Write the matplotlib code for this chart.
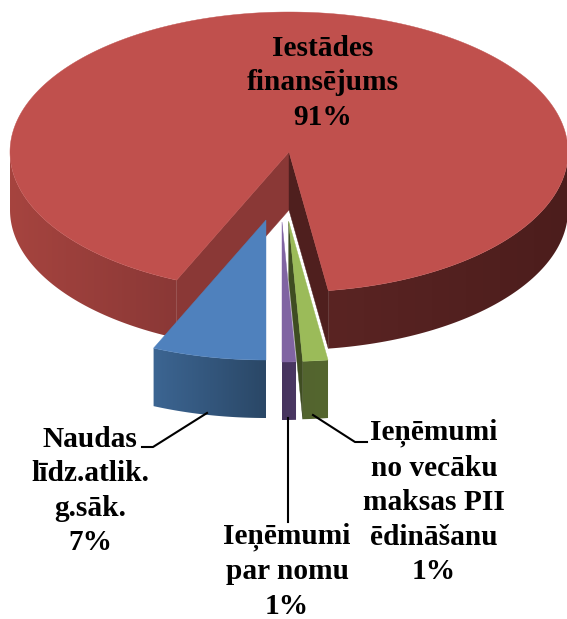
import numpy as np
import matplotlib
matplotlib.use("Agg")
import matplotlib.pyplot as plt
from matplotlib.colors import to_rgb
from matplotlib.patches import Polygon

# clockwise from the first slice
names = ["Iestādes\nfinansējums", "Ieņēmumi\nno vecāku\nmaksas PII\nēdināšanu", "Ieņēmumi\npar nomu", "Naudas\nlīdz.atlik.\ng.sāk."]
values = [91.15, 1.45, 0.8, 6.6]
pct_labels = ["91%", "1%", "1%", "7%"]

top_colors = ["#C0504D", "#9BBB59", "#8064A2", "#4F81BD"]
side_stops = [
    ([10, 177, 330, 567], ["#A6443F", "#8A3836", "#5A2423", "#4C1D1C"]),
    ([300, 330], ["#52642E", "#55662F"]),
    ([280, 298], ["#47345E", "#4A3763"]),
    ([154, 266], ["#3C6592", "#2A4766"]),
]
cut_left = "#8A3836"
cut_right = "#4F1F1E"
cut_green = "#3F4D22"

# ellipse geometry in pixels
cx, cy = 289, 152
rx, ry = 279, 140
depth = 58
first_angle = 203.76
# where each slice apex ends up
apex = [(289, 152), (288.7, 221.4), (282, 222), (266, 220)]

fig = plt.figure(figsize=(5.67, 6.19), dpi=100)
ax = fig.add_axes([0, 0, 1, 1])
z = [1]


def pt(a, deg):
    t = np.radians(deg)
    return a[0] + rx * np.sin(t), a[1] - ry * np.cos(t)


def side(a, start, end, stops):
    # only the front half of the rim can be seen
    th = np.linspace(start, end, 300)
    keep = np.cos(np.radians(th)) <= 0
    # red slice wraps round the back, so it gives two runs
    runs = np.split(th[keep], np.where(np.diff(th[keep]) > 20)[0] + 1)
    for run in runs:
        if len(run) < 2:
            continue
        xs, ys = pt(a, run)
        poly = np.c_[np.r_[xs, xs[::-1]], np.r_[ys, ys[::-1] + depth]]
        gx = np.arange(0, 568)
        img = np.stack([np.interp(gx, stops[0], [to_rgb(c)[i] for c in stops[1]]) for i in range(3)], axis=-1)[None, :, :]
        im = ax.imshow(img, extent=(0, 568, 619, 0), aspect="auto", zorder=z[0], interpolation="bilinear")
        im.set_clip_path(Polygon(poly, transform=ax.transData))
        z[0] += 1


def cut(a, deg, col):
    x, y = pt(a, deg)
    ax.fill([a[0], x, x, a[0]], [a[1], y, y + depth, a[1] + depth], color=col, lw=0.3, zorder=z[0])
    z[0] += 1


def top(a, start, end, col):
    th = np.linspace(start, end, 400)
    xs, ys = pt(a, th)
    ax.fill(np.r_[a[0], xs], np.r_[a[1], ys], color=col, lw=0.3, zorder=z[0])
    z[0] += 1


angles = first_angle + np.cumsum([0] + [v * 3.6 for v in values])

for i in range(len(values)):
    a0, a1 = angles[i], angles[i + 1]
    side(apex[i], a0, a1, side_stops[i])
    if i == 0:
        cut(apex[i], a0, cut_left)
        cut(apex[i], a1, cut_right)
    if i == 1:
        cut(apex[i], a1, cut_green)
    top(apex[i], a0, a1, top_colors[i])

# leader lines
ax.plot([207, 153, 142], [413, 447, 447], color="black", lw=1.5, zorder=50)
ax.plot([313, 355, 367], [415, 442, 442], color="black", lw=1.5, zorder=50)
ax.plot([288, 288], [418, 522], color="black", lw=1.5, zorder=50)

label_pos = [(322.5, 83), (434, 502), (287, 571), (90, 491)]
for n, p, xy in zip(names, pct_labels, label_pos):
    ax.text(xy[0], xy[1], n + "\n" + p, ha="center", va="center", family="Liberation Serif",
            weight="bold", fontsize=21.2, linespacing=1.36, color="black", zorder=60)

ax.set_xlim(0, 567)
ax.set_ylim(619, 0)
ax.axis("off")

fig.savefig("out.png", dpi=100)
